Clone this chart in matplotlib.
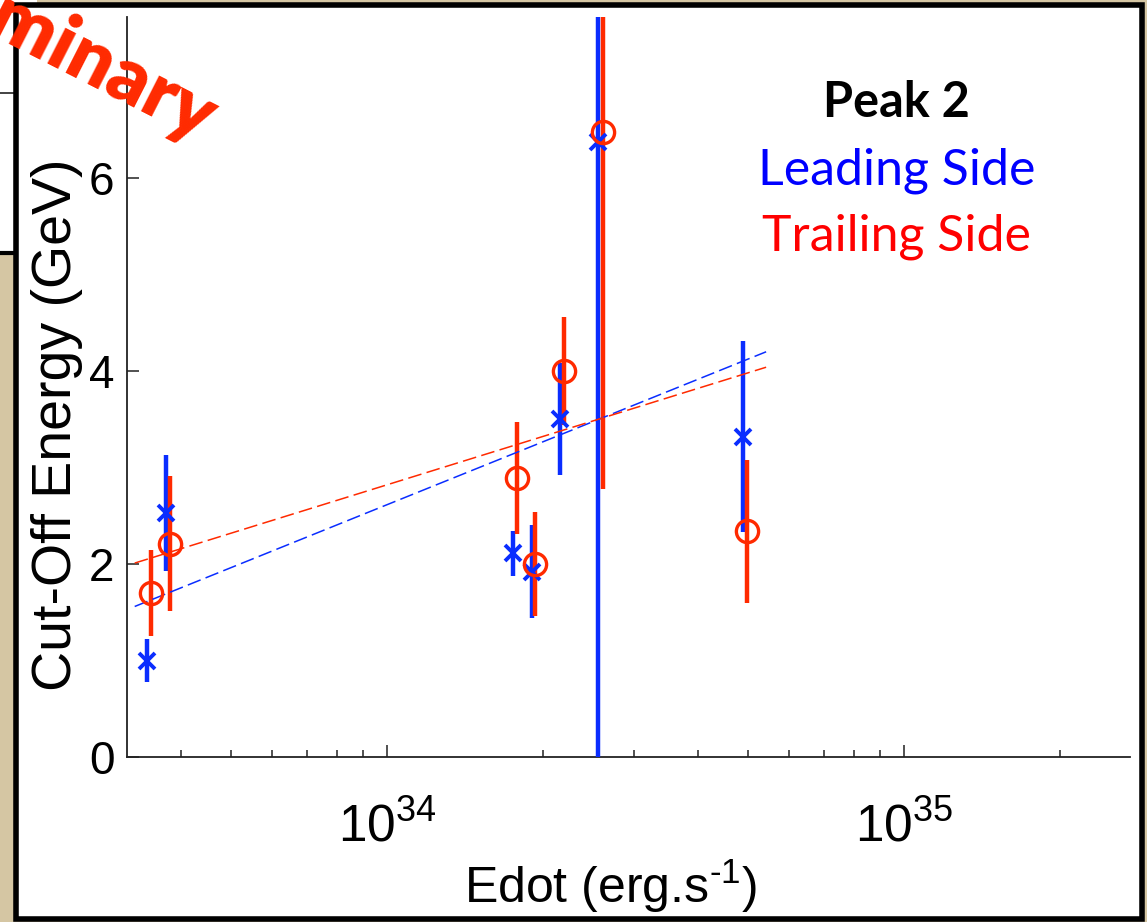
import matplotlib
matplotlib.use("Agg")
import matplotlib.pyplot as plt
import numpy as np
from matplotlib.patches import Rectangle
from matplotlib.lines import Line2D

# ---------------- data ----------------
lead_edot = [3.44e33, 3.74e33, 1.75e34, 1.91e34, 2.16e34, 2.56e34, 4.87e34]
lead_ecut = [1.00, 2.53, 2.11, 1.92, 3.50, 6.37, 3.32]
lead_err = [0.22, 0.60, 0.23, 0.48, 0.58, 7.00, 0.99]

trail_edot = [3.49e33, 3.80e33, 1.78e34, 1.93e34, 2.20e34, 2.62e34, 4.96e34]
trail_ecut = [1.70, 2.21, 2.89, 2.00, 4.00, 6.48, 2.34]
trail_err = [0.45, 0.70, 0.58, 0.54, 0.56, 3.70, 0.74]

fit_edot = [3.25e33, 5.41e34]
lead_fit = [1.56, 4.20]
trail_fit = [2.01, 4.04]

yticks = [0, 2, 4, 6]
xlim = [10 ** 33.497, 10 ** 35.437]
ylim = [0, 7.67]

BLUE = '#0a2dff'
RED = '#ff2a00'
BEIGE = '#d5c6a3'

W, H = 1147, 922
plt.rcParams['mathtext.fontset'] = 'custom'
plt.rcParams['mathtext.rm'] = 'Liberation Sans'
plt.rcParams['mathtext.it'] = 'Liberation Sans'
plt.rcParams['font.family'] = ['Liberation Sans', 'DejaVu Sans']

fig = plt.figure(figsize=(W / 100, H / 100), dpi=100)
fig.patch.set_facecolor(BEIGE)


def fx(x):
    return x / W


def fy(y):
    return 1 - y / H


# slide decoration
fig.add_artist(Rectangle((fx(0), fy(253)), fx(15), 253 / H, transform=fig.transFigure,
                         facecolor='white', edgecolor='none', zorder=0))
fig.add_artist(Rectangle((fx(0), fy(3)), fx(37), 3 / H, transform=fig.transFigure,
                         facecolor='white', edgecolor='none', zorder=0))
fig.add_artist(Line2D([fx(0), fx(15)], [fy(93), fy(93)], transform=fig.transFigure,
                      color='#222222', lw=1.2, zorder=1))
fig.add_artist(Line2D([fx(0), fx(15)], [fy(253), fy(253)], transform=fig.transFigure,
                      color='black', lw=3.0, zorder=1))
fig.add_artist(Rectangle((fx(15.5), fy(918.5)), fx(1141.5 - 15.5), (918.5 - 5.5) / H,
                         transform=fig.transFigure, facecolor='white',
                         edgecolor='black', lw=4.0, zorder=1))

ax = fig.add_axes([fx(127), fy(757), fx(1130 - 127), (757 - 17) / H])
ax.set_zorder(2)
ax.patch.set_alpha(0)

ax.errorbar(lead_edot, lead_ecut, yerr=lead_err, fmt='none', ecolor=BLUE,
            elinewidth=3.2, capsize=0, zorder=3)
ax.errorbar(trail_edot, trail_ecut, yerr=trail_err, fmt='none', ecolor=RED,
            elinewidth=3.2, capsize=0, zorder=4)
ax.plot(fit_edot, lead_fit, color=BLUE, lw=1.1, dashes=[9, 3.5], zorder=5)
ax.plot(fit_edot, trail_fit, color=RED, lw=1.1, dashes=[9, 3.5], zorder=5)
ax.plot(lead_edot, lead_ecut, 'x', color=BLUE, ms=11, mew=2.8, zorder=6)
ax.plot(trail_edot, trail_ecut, 'o', color=RED, mfc='none', ms=16, mew=2.4, zorder=7)

ax.set_xscale('log')
ax.set_xlim(xlim)
ax.set_ylim(ylim)
ax.set_yticks(yticks)
ax.set_yticklabels([str(v) for v in yticks])
for s in ['top', 'right']:
    ax.spines[s].set_visible(False)
for s in ['left', 'bottom']:
    ax.spines[s].set_linewidth(1.3)
    ax.spines[s].set_color('#222222')
ax.tick_params(axis='both', which='major', direction='in', length=8.5, width=1.1,
               colors='#222222', labelcolor='black')
ax.tick_params(axis='y', which='major', labelsize=33, pad=9)
ax.tick_params(axis='x', which='major', labelsize=37, pad=33)
ax.tick_params(axis='x', which='minor', direction='in', length=5, width=1.1,
               colors='#222222')

ax.set_xlabel(r'Edot (erg.s$^{\text{-}1}$)', fontsize=36, va='center')
ax.xaxis.set_label_coords(0.4816, -0.175)
ax.set_ylabel('Cut-Off Energy (GeV)', fontsize=40, va='center')
ax.yaxis.set_label_coords(-0.0698, 0.4486)

# annotation text
fig.text(fx(896), fy(117), 'Peak 2', fontsize=35, fontweight='bold', color='black',
         family=['Lato', 'DejaVu Sans'], ha='center', va='baseline', zorder=10)
fig.text(fx(897), fy(185), 'Leading Side', fontsize=36, color='#0000ff',
         family=['Lato', 'DejaVu Sans'], ha='center', va='baseline', zorder=10)
fig.text(fx(896), fy(250), 'Trailing Side', fontsize=36, color='#ff0000',
         family=['Lato', 'DejaVu Sans'], ha='center', va='baseline', zorder=10)

# "Preliminary" stamp (partly outside the picture, as in the source slide)
fig.text(fx(200), fy(144), 'Preliminary', fontsize=56, fontweight='heavy', color=RED,
         family=['Lato', 'DejaVu Sans'], ha='right', va='baseline', rotation=-27,
         rotation_mode='anchor', zorder=12)

fig.savefig('out.png', dpi=100, facecolor=fig.get_facecolor())
